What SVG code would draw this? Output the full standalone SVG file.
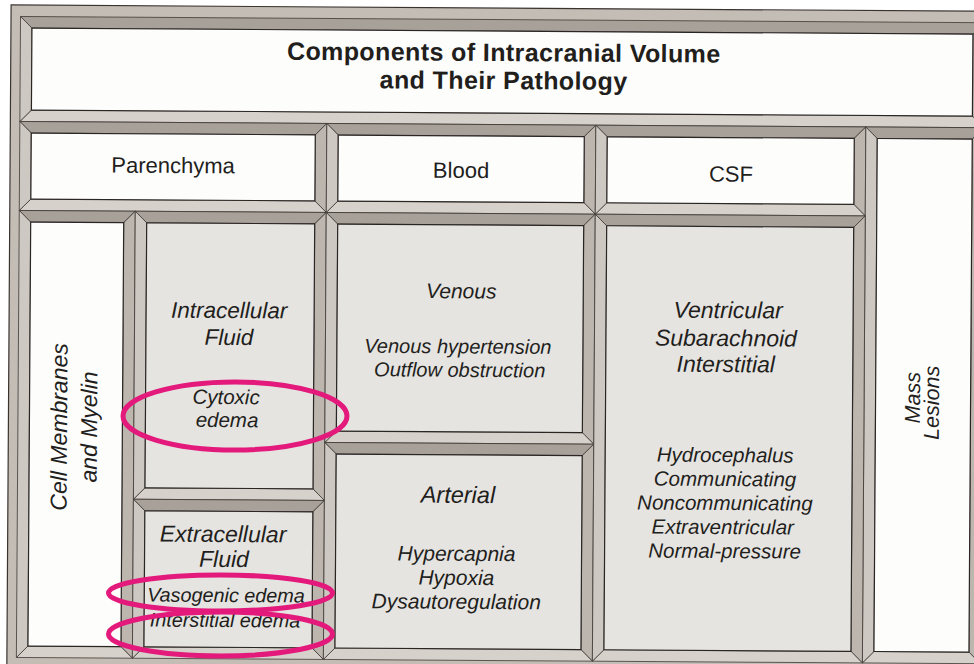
<svg xmlns="http://www.w3.org/2000/svg" width="974" height="664" viewBox="0 0 974 664">
<defs>
<style>
.bt{fill:#a8a199;stroke:#3e3834;stroke-width:0.8}
.br{fill:#bcb6ae;stroke:#3e3834;stroke-width:0.8}
.bb{fill:#d6d1ca;stroke:#3e3834;stroke-width:0.8}
.bl{fill:#cdc8c1;stroke:#3e3834;stroke-width:0.8}
.w{fill:#fdfdfc;stroke:#2a2624;stroke-width:1.2}
.g{fill:#e6e4e1;stroke:#2a2624;stroke-width:1.2}
text{font-family:"Liberation Sans",Arial,sans-serif;fill:#221e1c;text-anchor:middle}
.ttl{font-weight:bold;font-size:25px;letter-spacing:0.4px}
.hd{font-size:22px}
.it{font-style:italic}
.ring{fill:none;stroke:#e31a7b;stroke-width:5}
</style>
</defs>
<rect x="0" y="0" width="974" height="664" fill="#ffffff"/>
<g transform="rotate(0.37 487 332)">
<rect id="frame" x="9" y="8" width="990" height="670" fill="#c3bdb5" stroke="#3a3430" stroke-width="1.2"/>

<g id="title">
<polygon class="bt" points="18.5,19.5 982.5,19.5 971,31 30,31"/>
<polygon class="br" points="982.5,19.5 982.5,124.5 971,113 971,31"/>
<polygon class="bb" points="982.5,124.5 18.5,124.5 30,113 971,113"/>
<polygon class="bl" points="18.5,124.5 18.5,19.5 30,31 30,113"/>
<rect class="w" x="30" y="31" width="941" height="82"/>
<text class="ttl" x="502" y="61">Components of Intracranial Volume</text>
<text class="ttl" x="502" y="89">and Their Pathology</text>
</g>

<g id="parenchyma">
<polygon class="bt" points="18.5,124.5 325.5,124.5 314,136 30,136"/>
<polygon class="br" points="325.5,124.5 325.5,213.5 314,202 314,136"/>
<polygon class="bb" points="325.5,213.5 18.5,213.5 30,202 314,202"/>
<polygon class="bl" points="18.5,213.5 18.5,124.5 30,136 30,202"/>
<rect class="w" x="30" y="136" width="284" height="66"/>
<text class="hd" x="172" y="175">Parenchyma</text>
</g>

<g id="blood">
<polygon class="bt" points="325.5,124.5 594.5,124.5 583,136 337,136"/>
<polygon class="br" points="594.5,124.5 594.5,213.5 583,202 583,136"/>
<polygon class="bb" points="594.5,213.5 325.5,213.5 337,202 583,202"/>
<polygon class="bl" points="325.5,213.5 325.5,124.5 337,136 337,202"/>
<rect class="w" x="337" y="136" width="246" height="66"/>
<text class="hd" x="460" y="178">Blood</text>
</g>

<g id="csf">
<polygon class="bt" points="594.5,124.5 864.5,124.5 853,136 606,136"/>
<polygon class="br" points="864.5,124.5 864.5,213.5 853,202 853,136"/>
<polygon class="bb" points="864.5,213.5 594.5,213.5 606,202 853,202"/>
<polygon class="bl" points="594.5,213.5 594.5,124.5 606,136 606,202"/>
<rect class="w" x="606" y="136" width="247" height="66"/>
<text class="hd" x="730" y="180">CSF</text>
</g>

<g id="mass-lesions">
<polygon class="bt" points="864.5,124.5 982.5,124.5 971,136 876,136"/>
<polygon class="br" points="982.5,124.5 982.5,660.5 971,649 971,136"/>
<polygon class="bb" points="982.5,660.5 864.5,660.5 876,649 971,649"/>
<polygon class="bl" points="864.5,660.5 864.5,124.5 876,136 876,649"/>
<rect class="w" x="876" y="136" width="95" height="513"/>
<text class="it" font-size="21.5" transform="translate(920.4,395) rotate(-90)">Mass</text>
<text class="it" font-size="21.5" transform="translate(939.4,400) rotate(-90)">Lesions</text>
</g>

<g id="cell-membranes">
<polygon class="bt" points="18.5,213.5 134.5,213.5 123,225 30,225"/>
<polygon class="br" points="134.5,213.5 134.5,660.5 123,649 123,225"/>
<polygon class="bb" points="134.5,660.5 18.5,660.5 30,649 123,649"/>
<polygon class="bl" points="18.5,660.5 18.5,213.5 30,225 30,649"/>
<rect class="w" x="30" y="225" width="93" height="424"/>
<text class="it" font-size="23" transform="translate(67.6,429.7) rotate(-90)">Cell Membranes</text>
<text class="it" font-size="23" transform="translate(97.6,429.5) rotate(-90)">and Myelin</text>
</g>

<g id="intracellular">
<polygon class="bt" points="134.5,213.5 325.5,213.5 314,225 146,225"/>
<polygon class="br" points="325.5,213.5 325.5,501.5 314,490 314,225"/>
<polygon class="bb" points="325.5,501.5 134.5,501.5 146,490 314,490"/>
<polygon class="bl" points="134.5,501.5 134.5,213.5 146,225 146,490"/>
<rect class="g" x="146" y="225" width="168" height="265"/>
<text class="it" font-size="22.5" x="229" y="319.7">Intracellular</text>
<text class="it" font-size="22.5" x="229" y="346.7">Fluid</text>
<text class="it" font-size="20.5" x="226.5" y="405.7">Cytoxic</text>
<text class="it" font-size="20.5" x="227.6" y="428.7">edema</text>
</g>

<g id="extracellular">
<polygon class="bt" points="134.5,501.5 325.5,501.5 314,513 146,513"/>
<polygon class="br" points="325.5,501.5 325.5,660.5 314,649 314,513"/>
<polygon class="bb" points="325.5,660.5 134.5,660.5 146,649 314,649"/>
<polygon class="bl" points="134.5,660.5 134.5,501.5 146,513 146,649"/>
<rect class="g" x="146" y="513" width="168" height="136"/>
<text class="it" font-size="23" x="224.4" y="543.7">Extracellular</text>
<text class="it" font-size="23" x="225.5" y="568.7">Fluid</text>
<text class="it" font-size="19.8" x="227.7" y="603.7">Vasogenic edema</text>
<text class="it" font-size="19.8" x="226.9" y="628.7">Interstitial edema</text>
</g>

<g id="venous">
<polygon class="bt" points="325.5,213.5 594.5,213.5 583,225 337,225"/>
<polygon class="br" points="594.5,213.5 594.5,443.5 583,432 583,225"/>
<polygon class="bb" points="594.5,443.5 325.5,443.5 337,432 583,432"/>
<polygon class="bl" points="325.5,443.5 325.5,213.5 337,225 337,432"/>
<rect class="g" x="337" y="225" width="246" height="207"/>
<text class="it" font-size="21" x="461" y="298.5">Venous</text>
<text class="it" font-size="20" x="458" y="353.5">Venous hypertension</text>
<text class="it" font-size="20" x="460" y="377">Outflow obstruction</text>
</g>

<g id="arterial">
<polygon class="bt" points="325.5,443.5 594.5,443.5 583,455 337,455"/>
<polygon class="br" points="594.5,443.5 594.5,660.5 583,649 583,455"/>
<polygon class="bb" points="594.5,660.5 325.5,660.5 337,649 583,649"/>
<polygon class="bl" points="325.5,660.5 325.5,443.5 337,455 337,649"/>
<rect class="g" x="337" y="455" width="246" height="194"/>
<text class="it" font-size="23.5" x="459" y="503">Arterial</text>
<text class="it" font-size="21" x="458" y="561">Hypercapnia</text>
<text class="it" font-size="21" x="458" y="585">Hypoxia</text>
<text class="it" font-size="21" x="458" y="609">Dysautoregulation</text>
</g>

<g id="csf-compartments">
<polygon class="bt" points="594.5,213.5 864.5,213.5 853,225 606,225"/>
<polygon class="br" points="864.5,213.5 864.5,660.5 853,649 853,225"/>
<polygon class="bb" points="864.5,660.5 594.5,660.5 606,649 853,649"/>
<polygon class="bl" points="594.5,660.5 594.5,213.5 606,225 606,649"/>
<rect class="g" x="606" y="225" width="247" height="424"/>
<text class="it" font-size="23" x="728" y="316.5">Ventricular</text>
<text class="it" font-size="23" x="726" y="344.5">Subarachnoid</text>
<text class="it" font-size="23" x="726" y="370.5">Interstitial</text>
<text class="it" font-size="20.5" x="726" y="460.5">Hydrocephalus</text>
<text class="it" font-size="20.5" x="726" y="484.5">Communicating</text>
<text class="it" font-size="20.5" x="726" y="508.5">Noncommunicating</text>
<text class="it" font-size="20.5" x="724" y="532.5">Extraventricular</text>
<text class="it" font-size="20.5" x="726" y="556.5">Normal-pressure</text>
</g>
</g>

<g id="connectors"></g>

<g id="highlights">
<ellipse class="ring" cx="235" cy="416" rx="112" ry="34"/>
<ellipse class="ring" cx="220.5" cy="593" rx="112" ry="18"/>
<ellipse class="ring" cx="220.5" cy="634" rx="112" ry="22"/>
</g>
</svg>
